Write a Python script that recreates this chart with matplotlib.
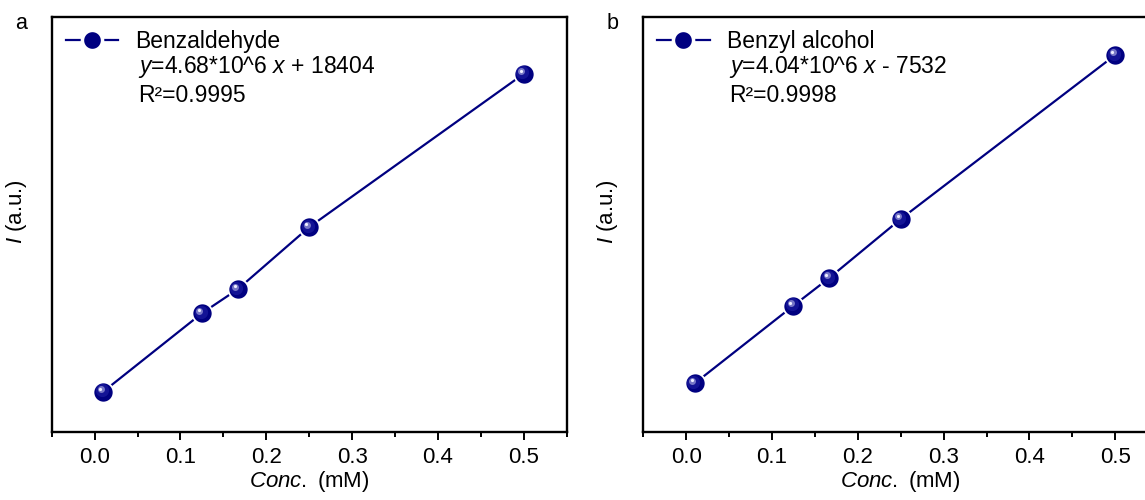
import numpy as np
import matplotlib.pyplot as plt
from matplotlib.lines import Line2D
from matplotlib.transforms import offset_copy

plt.rcParams['font.family'] = ['Liberation Sans', 'DejaVu Sans']
plt.rcParams['mathtext.fontset'] = 'custom'
plt.rcParams['mathtext.rm'] = 'Liberation Sans'
plt.rcParams['mathtext.it'] = 'Liberation Sans:italic'

# data
conc = [0.01, 0.125, 0.1667, 0.25, 0.5]
benzaldehyde = [65200, 631000, 804000, 1252000, 2358000]
benzyl_alcohol = [32900, 500800, 667800, 1023600, 2012500]

names = ['Benzaldehyde', 'Benzyl alcohol']
equations = [r'$y$=4.68*10^6 $x$ + 18404',
             r'$y$=4.04*10^6 $x$ - $\mathit{7532}$']
r2 = ['R\u00b2=0.9995', 'R\u00b2=0.9998']
panel_labels = ['a', 'b']
ylims = [(-223500, 2770000), (-259000, 2243400)]

navy = '#000080'

fig = plt.figure(figsize=(11.45, 5.0), dpi=100)
ax_a = fig.add_axes([0.0452, 0.1366, 0.4497, 0.8300])
ax_b = fig.add_axes([0.5618, 0.1366, 0.4497, 0.8300])


def sphere_plot(ax, x, y):
    ax.plot(x, y, '-', color=navy, lw=1.6, zorder=2)
    ax.plot(x, y, 'o', color=navy, ms=14.5, mec='white', mew=1.3, zorder=3)
    # fake 3d shading on the balls
    for dx, size, col, alpha in [(-1.0, 9.5, '#2424a8', 0.55),
                                 (-1.9, 5, '#8a8ad0', 0.85),
                                 (-2.2, 2.3, '#eeeeff', 1.0)]:
        tr = offset_copy(ax.transData, fig=fig, x=dx, y=-dx, units='points')
        ax.plot(x, y, 'o', color=col, ms=size, mew=0, alpha=alpha,
                transform=tr, zorder=4)


for ax, yv, name, eq, r, lab, yl in zip([ax_a, ax_b],
                                        [benzaldehyde, benzyl_alcohol],
                                        names, equations, r2, panel_labels, ylims):
    sphere_plot(ax, conc, yv)
    ax.set_xlim(-0.05, 0.55)
    ax.set_ylim(*yl)
    ax.set_xticks(np.arange(0, 0.51, 0.1))
    ax.set_xticks(np.arange(-0.05, 0.56, 0.05), minor=True)
    ax.set_xticklabels(['0.0', '0.1', '0.2', '0.3', '0.4', '0.5'])
    ax.set_yticks([])
    ax.tick_params(axis='x', which='major', direction='out', length=6,
                   width=1.4, labelsize=16, pad=5)
    ax.tick_params(axis='x', which='minor', direction='out', length=3.5,
                   width=1.4)
    for s in ax.spines.values():
        s.set_linewidth(1.7)
    ax.set_xlabel(r'$\mathit{Conc.}$ (mM)', fontsize=16, labelpad=1)
    ax.set_ylabel(r'$I$ (a.u.)', fontsize=16)
    ax.yaxis.set_label_coords(-0.045, 0.53)

    proxy = Line2D([], [], color=navy, lw=1.6, marker='o', ms=14.5,
                   mec='white', mew=2.5)
    ax.legend([proxy], [name], loc='upper left', frameon=False, fontsize=16.5,
              handlelength=2.3, handletextpad=0.75,
              borderaxespad=0.4, borderpad=0.2)
    ax.text(0.167, 0.879, eq, transform=ax.transAxes, fontsize=16.5,
            va='center', ha='left')
    ax.text(0.167, 0.809, r, transform=ax.transAxes, fontsize=16.5,
            va='center', ha='left')
    ax.text(-0.072, 1.01, lab, transform=ax.transAxes, fontsize=15.5,
            va='top', ha='left')

fig.savefig('out.png', dpi=100)
